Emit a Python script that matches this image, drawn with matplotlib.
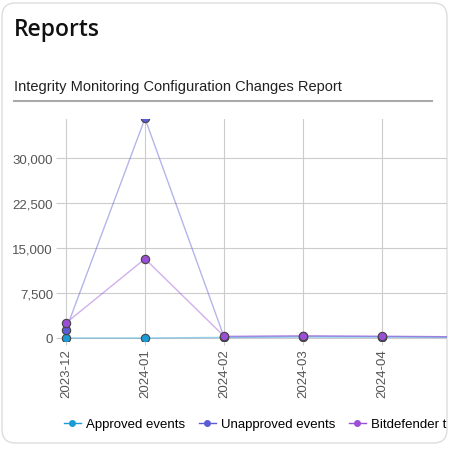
import matplotlib
matplotlib.use("Agg")
import matplotlib.pyplot as plt
from matplotlib.patches import FancyBboxPatch
from matplotlib.lines import Line2D

categories = ["2023-12", "2024-01", "2024-02", "2024-03", "2024-04", "2024-05"]
approved = [0, 0, 100, 150, 150, 100]
unapproved = [1400, 36600, 200, 300, 250, 200]
bitdefender = [2500, 13200, 300, 400, 300, 200]
yticks = [0, 7500, 15000, 22500, 30000]
ytick_labels = ["0", "7,500", "15,000", "22,500", "30,000"]

fig = plt.figure(figsize=(4.51, 4.52), dpi=100)
W, H = 451, 452
fig.patches.append(FancyBboxPatch((2/W, 8/H), 445/W, 440/H, boxstyle="round,pad=0,rounding_size=0.03",
                                  transform=fig.transFigure, fc="white", ec="#dddddd", lw=1, zorder=-5))
fig.text(14/W, 1 - 30/H, "Reports", fontsize=16.5, fontweight=600, family="Open Sans",
         va="center", color="#111111")
fig.text(14/W, 1 - 87/H, "Integrity Monitoring Configuration Changes Report", fontsize=10.5,
         va="center", color="#222222", family="Liberation Sans")
fig.add_artist(Line2D([14/W, 432/W], [1 - 102/H, 1 - 102/H], color="#aaaaaa", lw=1.5))

ax = fig.add_axes([60/W, (452-342)/H, 387/W, 222/H])
ax.patch.set_alpha(0)
x = list(range(len(categories)))
series = [(approved, "#1a9ad6", "Approved events"),
          (unapproved, "#5b5bd6", "Unapproved events"),
          (bitdefender, "#9b4fd6", "Bitdefender t")]
for vals, c, lab in series:
    ax.plot(x, vals, color=c, alpha=0.45, lw=1, zorder=2)
    ax.plot(x, vals, ls="none", marker="o", ms=6, mfc=c, mec="#444444", mew=0.8, zorder=3)
ax.set_xlim(-6/79, 381/79)
ax.set_ylim(-500, 36500)
ax.set_xticks(x[:5])
ax.set_xticklabels(categories[:5], rotation=90, fontsize=9.5, color="#555555", family="Liberation Sans")
ax.set_yticks(yticks)
ax.set_yticklabels(ytick_labels, fontsize=9.5, color="#555555", family="Liberation Sans")
ax.grid(True, color="#cccccc", lw=0.8)
ax.set_axisbelow(True)
for s in ax.spines.values():
    s.set_visible(False)
ax.tick_params(length=3, color="#cccccc", pad=2)

handles = [Line2D([], [], color=c, marker="o", ms=4, lw=1) for _, c, _ in series]
fig.legend(handles, [l for _, _, l in series], loc="center left", bbox_to_anchor=(52/W, 1 - 425/H),
           ncol=3, frameon=False, handlelength=1.3, handletextpad=0.4, columnspacing=1.0,
           prop={"family": "Liberation Sans", "size": 9.5})
fig.savefig("out.png", dpi=100)
